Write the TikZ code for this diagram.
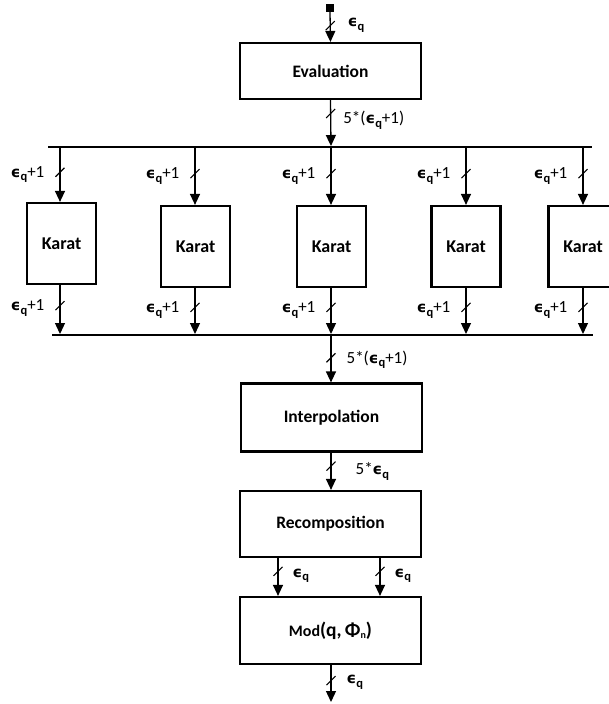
\documentclass[tikz,border=0pt]{standalone}
\usepackage{fontspec}
\setmainfont{Carlito}
\newfontfamily\grkfont{DejaVu Sans}
\usetikzlibrary{arrows.meta}
% bold lunate epsilon with bold subscript q
\newcommand\epsq{{\grkfont\bfseries\fontsize{15}{17}\selectfont ϵ}{\bfseries\raisebox{-0.45ex}{\fontsize{12.5}{14}\selectfont q}}}

\begin{document}
\begin{tikzpicture}[x=1pt,y=-1pt,
  box/.style={draw, line width=2.2pt, inner sep=0pt, font=\bfseries\fontsize{17.5}{20}\selectfont},
  widebox/.style={box, minimum width=181pt},
  karatbox/.style={box, minimum width=69pt, minimum height=81pt, font=\bfseries\fontsize{18}{20}\selectfont},
  flow/.style={line width=1.3pt, -{Triangle[width=10pt,length=11pt]}},
  bus/.style={line width=2.6pt},
  lbl/.style={inner sep=0pt, font=\fontsize{17}{20}\selectfont},
  pics/cut/.style={code={\draw[-, line width=1.1pt] (-4.5,4.5) -- (4.5,-4.5);}}]

\useasboundingbox (0,0) rectangle (609,704);
\clip (0,0) rectangle (609,704);

% input terminal
\node[fill, minimum size=8pt, inner sep=0pt] (src) at (330,8) {};

% main chain of blocks
\node[widebox, minimum height=56pt] (eval) at (330.5,71) {Evaluation};
\node[widebox, minimum height=68pt] (interp) at (331.5,417.5) {Interpolation};
\node[widebox, minimum height=66pt] (recomp) at (330.5,524) {Recomposition};
\node[widebox, minimum height=67pt, font=\bfseries\fontsize{16}{20}\selectfont] (modq) at (330.5,630.5)
  {Mod{\fontsize{19.5}{22}\selectfont(q,\,Φ\raisebox{-0.2ex}{\fontsize{10}{12}\selectfont n})}};

% Karat multipliers
\node[karatbox] (k1) at (61.5,243.5) {Karat};
\node[karatbox] (k2) at (195.5,246.5) {Karat};
\node[karatbox] (k3) at (331.5,246.5) {Karat};
\node[karatbox] (k4) at (466,246.5) {Karat};
\node[karatbox] (k5) at (583,246.5) {Karat};

% distribution and collection buses
\coordinate (tbL) at (48,147);
\coordinate (tbR) at (592,147);
\coordinate (bbL) at (52,335);
\coordinate (bbR) at (593,335);
\draw[bus] (tbL) -- (tbR);
\draw[bus] (bbL) -- (bbR);

\coordinate (tin) at (331,146);
\coordinate (bout) at (331,335);
\coordinate (sink) at (331,702);

% input and evaluation
\draw[flow] (src.south) -- pic[pos=0.45]{cut}
  node[lbl, pos=0.45, anchor=west, xshift=17pt] {\epsq} (eval.north);
\draw[flow] (eval.south) -- pic[pos=0.29]{cut}
  node[lbl, pos=0.44, anchor=west, xshift=12pt] {5*(\epsq+1)} (tin);

% bus to Karat blocks and back
\foreach \k/\x in {k1/60,k2/195,k3/331,k4/466,k5/583}{
  \coordinate (\k top) at (\x,147);
  \coordinate (\k bot) at (\x,334);
  \draw[flow] (\k top) -- pic[pos=0.46]{cut}
    node[lbl, pos=0.5, anchor=east, xshift=-15pt] {\epsq+1} (\x,0 |- \k.north);
  \draw[flow] (\x,0 |- \k.south) -- pic[pos=0.42]{cut}
    node[lbl, pos=0.47, anchor=east, xshift=-15pt] {\epsq+1} (\k bot);
}

% interpolation, recomposition, reduction
\draw[flow] (bout) -- pic[pos=0.48]{cut}
  node[lbl, pos=0.52, anchor=west, xshift=15pt] {5*(\epsq+1)} (interp.north -| bout);
\draw[flow] (interp.south -| bout) -- pic[pos=0.36]{cut}
  node[lbl, pos=0.5, anchor=west, xshift=24pt] {5*\epsq} (recomp.north -| bout);
\coordinate (ra) at (278,0);
\coordinate (rb) at (380,0);
\draw[flow] (recomp.south -| ra) -- pic[pos=0.35]{cut}
  node[lbl, pos=0.47, anchor=west, xshift=14pt] {\epsq} (modq.north -| ra);
\draw[flow] (recomp.south -| rb) -- pic[pos=0.35]{cut}
  node[lbl, pos=0.47, anchor=west, xshift=14pt] {\epsq} (modq.north -| rb);
\draw[flow] (modq.south -| sink) -- pic[pos=0.42]{cut}
  node[lbl, pos=0.47, anchor=west, xshift=15pt] {\epsq} (sink);
\end{tikzpicture}
\end{document}
